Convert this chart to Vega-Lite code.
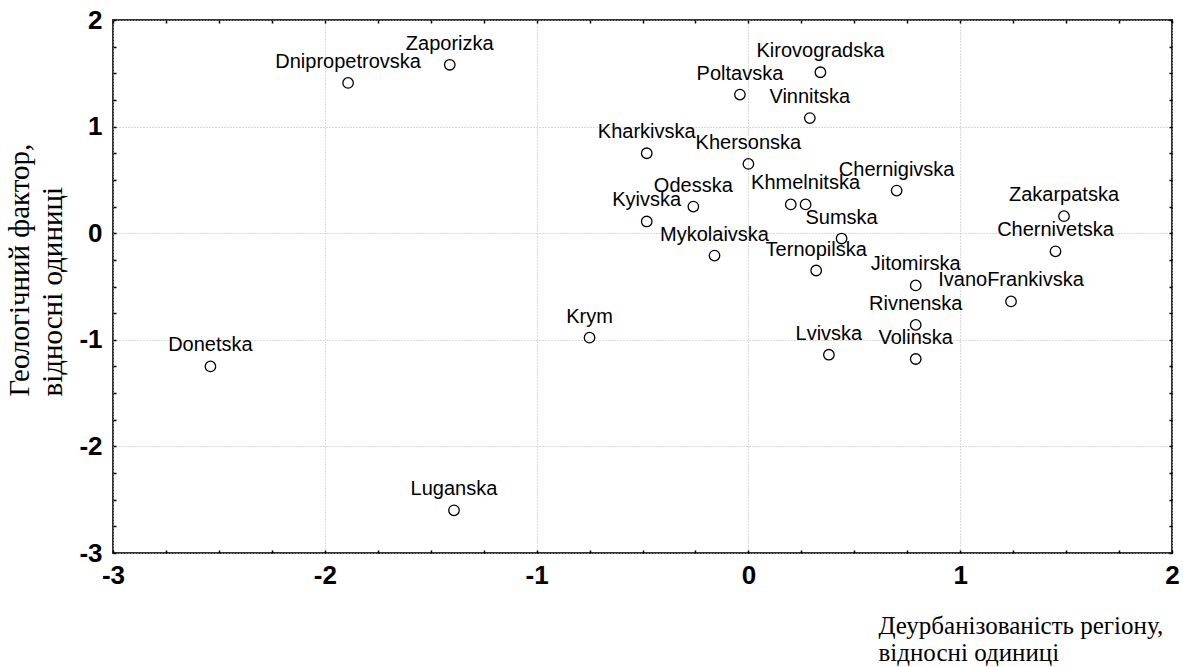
{
  "$schema": "https://vega.github.io/schema/vega-lite/v6.json",
  "width": 1059,
  "height": 533,
  "autosize": "none",
  "padding": {"left": 113, "top": 20, "right": 11, "bottom": 114},
  "background": "white",
  "config": {"view": {"stroke": "#333333", "strokeWidth": 2}},
  "data": {"values": [
    {"region": "Dnipropetrovska", "label": "Dnipropetrovska", "x": -1.89, "y": 1.41},
    {"region": "Zaporizka", "label": "Zaporizka", "x": -1.41, "y": 1.58},
    {"region": "Kirovogradska", "label": "Kirovogradska", "x": 0.34, "y": 1.51},
    {"region": "Poltavska", "label": "Poltavska", "x": -0.04, "y": 1.30},
    {"region": "Vinnitska", "label": "Vinnitska", "x": 0.29, "y": 1.08},
    {"region": "Kharkivska", "label": "Kharkivska", "x": -0.48, "y": 0.75},
    {"region": "Khersonska", "label": "Khersonska", "x": 0.0, "y": 0.65},
    {"region": "Chernigivska", "label": "Chernigivska", "x": 0.70, "y": 0.40},
    {"region": "Odesska", "label": "Odesska", "x": -0.26, "y": 0.25},
    {"region": "Khmelnitska", "label": "Khmelnitska", "x": 0.27, "y": 0.27},
    {"region": "Cherkaska", "label": "", "x": 0.20, "y": 0.27},
    {"region": "Kyivska", "label": "Kyivska", "x": -0.48, "y": 0.11},
    {"region": "Sumska", "label": "Sumska", "x": 0.44, "y": -0.05},
    {"region": "Zakarpatska", "label": "Zakarpatska", "x": 1.49, "y": 0.16},
    {"region": "Chernivetska", "label": "Chernivetska", "x": 1.45, "y": -0.17},
    {"region": "Mykolaivska", "label": "Mykolaivska", "x": -0.16, "y": -0.21},
    {"region": "Ternopilska", "label": "Ternopilska", "x": 0.32, "y": -0.35},
    {"region": "Jitomirska", "label": "Jitomirska", "x": 0.79, "y": -0.49},
    {"region": "IvanoFrankivska", "label": "IvanoFrankivska", "x": 1.24, "y": -0.64},
    {"region": "Rivnenska", "label": "Rivnenska", "x": 0.79, "y": -0.86},
    {"region": "Krym", "label": "Krym", "x": -0.75, "y": -0.98},
    {"region": "Lvivska", "label": "Lvivska", "x": 0.38, "y": -1.14},
    {"region": "Volinska", "label": "Volinska", "x": 0.79, "y": -1.18},
    {"region": "Donetska", "label": "Donetska", "x": -2.54, "y": -1.25},
    {"region": "Luganska", "label": "Luganska", "x": -1.39, "y": -2.60}
  ]},
  "encoding": {
    "x": {
      "field": "x", "type": "quantitative",
      "scale": {"domain": [-3, 2], "nice": false, "zero": false},
      "axis": {
        "orient": "bottom",
        "values": [-3, -2.75, -2.5, -2.25, -2, -1.75, -1.5, -1.25, -1, -0.75, -0.5, -0.25, 0, 0.25, 0.5, 0.75, 1, 1.25, 1.5, 1.75, 2],
        "domain": false,
        "grid": true, "gridDash": [1, 2], "gridColor": "#b4b4b4", "gridWidth": 1,
        "gridOpacity": {"condition": {"test": "datum.value % 1 != 0", "value": 0}, "value": 1},
        "tickSize": -3, "tickColor": "#000000", "tickWidth": 1.5,
        "labelExpr": "datum.value % 1 == 0 ? (datum.value < 0 ? '-' + abs(datum.value) : '' + datum.value) : ''",
        "labelFont": "Liberation Sans", "labelFontWeight": "bold", "labelFontSize": 26, "labelColor": "#000000",
        "labelPadding": 12, "labelFlush": false, "labelOverlap": false, "labelBaseline": "top",
        "title": ["Деурбанізованість регіону,", "відносні одиниці"],
        "titleFont": "Liberation Serif", "titleFontWeight": "normal", "titleFontSize": 25, "titleColor": "#000000",
        "titleX": 765, "titleY": 80, "titleAlign": "left", "titleBaseline": "alphabetic", "titleLineHeight": 27
      }
    },
    "y": {
      "field": "y", "type": "quantitative",
      "scale": {"domain": [-3, 2], "nice": false, "zero": false},
      "axis": {
        "orient": "left",
        "values": [-3, -2.75, -2.5, -2.25, -2, -1.75, -1.5, -1.25, -1, -0.75, -0.5, -0.25, 0, 0.25, 0.5, 0.75, 1, 1.25, 1.5, 1.75, 2],
        "domain": false,
        "grid": true, "gridDash": [1, 2], "gridColor": "#b4b4b4", "gridWidth": 1,
        "gridOpacity": {"condition": {"test": "datum.value % 1 != 0", "value": 0}, "value": 1},
        "tickSize": -3, "tickColor": "#000000", "tickWidth": 1.5,
        "labelExpr": "datum.value % 1 == 0 ? (datum.value < 0 ? '-' + abs(datum.value) : '' + datum.value) : ''",
        "labelFont": "Liberation Sans", "labelFontWeight": "bold", "labelFontSize": 26, "labelColor": "#000000",
        "labelPadding": 14, "labelFlush": false, "labelOverlap": false, "labelBaseline": "middle",
        "title": ["Геологічний фактор,", "відносні одиниці"],
        "titleFont": "Liberation Serif", "titleFontWeight": "normal", "titleFontSize": 29, "titleColor": "#000000",
        "titleAngle": 270, "titleX": -85, "titleY": 376, "titleAlign": "left", "titleBaseline": "alphabetic", "titleLineHeight": 33
      }
    }
  },
  "layer": [
    {
      "mark": {"type": "point", "shape": "circle", "filled": false, "stroke": "#000000", "strokeWidth": 1.3, "size": 110, "opacity": 1}
    },
    {
      "mark": {"type": "text", "dy": -15, "baseline": "alphabetic", "align": "center", "font": "Liberation Sans", "fontSize": 20, "color": "#000000"},
      "encoding": {
        "text": {"field": "label"},
        "x": {
          "field": "x", "type": "quantitative",
          "axis": {"orient": "top", "values": [-3, -2.75, -2.5, -2.25, -2, -1.75, -1.5, -1.25, -1, -0.75, -0.5, -0.25, 0, 0.25, 0.5, 0.75, 1, 1.25, 1.5, 1.75, 2], "labels": false, "domain": false, "grid": false, "tickSize": -3, "tickColor": "#000000", "tickWidth": 1.5, "title": null}
        },
        "y": {
          "field": "y", "type": "quantitative",
          "axis": {"orient": "right", "values": [-3, -2.75, -2.5, -2.25, -2, -1.75, -1.5, -1.25, -1, -0.75, -0.5, -0.25, 0, 0.25, 0.5, 0.75, 1, 1.25, 1.5, 1.75, 2], "labels": false, "domain": false, "grid": false, "tickSize": -3, "tickColor": "#000000", "tickWidth": 1.5, "title": null}
        }
      }
    }
  ],
  "resolve": {"axis": {"x": "independent", "y": "independent"}}
}
